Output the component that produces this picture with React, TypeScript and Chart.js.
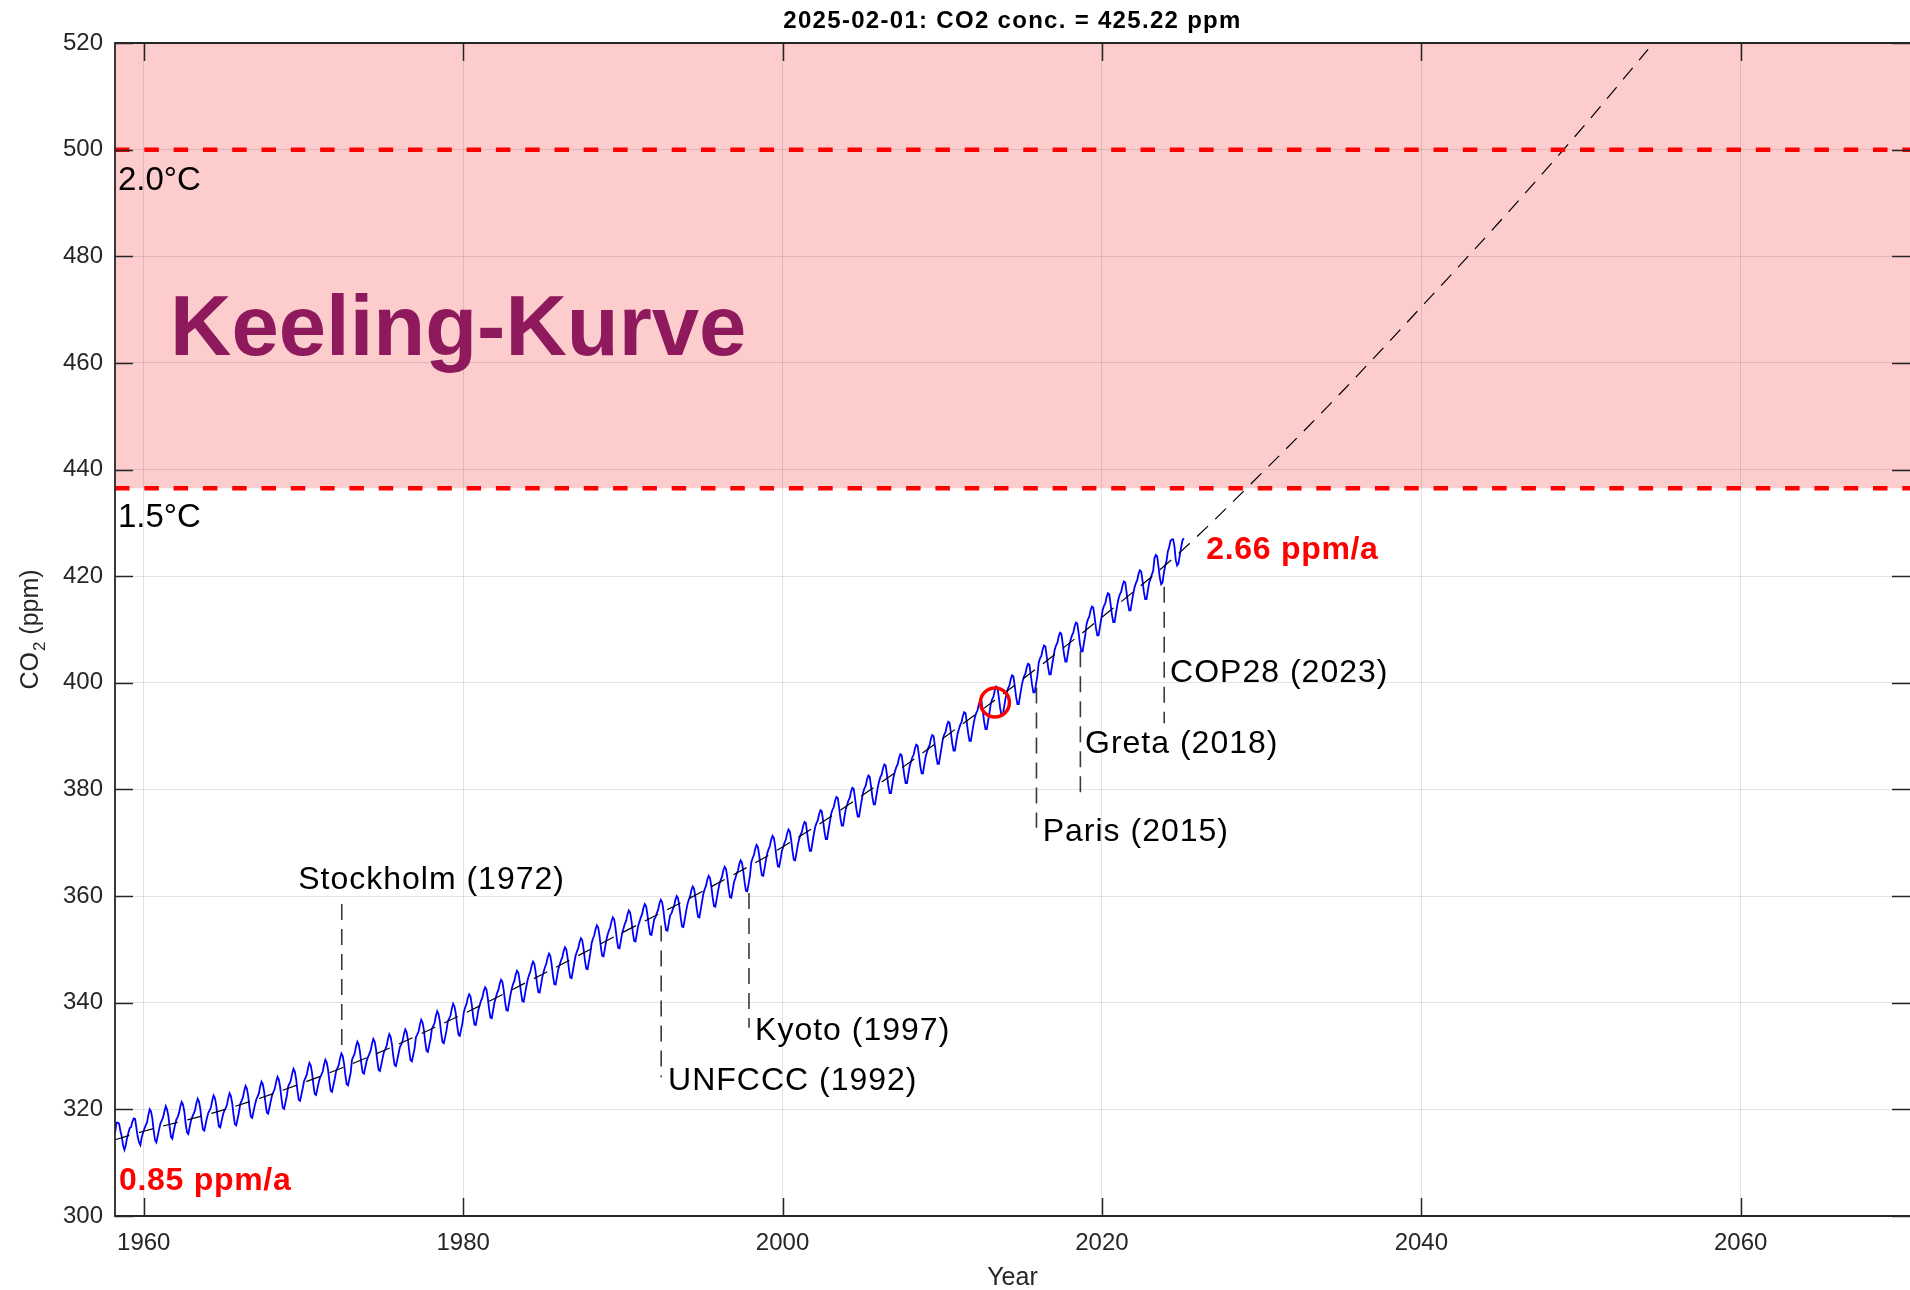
import React, { useEffect, useRef } from 'react';
import { Chart, registerables } from 'chart.js';

Chart.register(...registerables);

// ---------- data ----------
const START_YEAR = 1958;
const START_MONTH = 3; // first value: March 1958

// Monthly mean CO2 (ppm), Mauna Loa, March 1958 .. February 2025
const co2Monthly: number[] = [
  // 1958 (Mar-Dec)
  315.7, 317.5, 317.5, 317.3, 315.9, 314.9, 313.2, 312.4, 313.3, 314.7,
  // 1959
  315.6, 316.5, 316.7, 317.7, 318.3, 318.2, 316.5, 314.8, 313.8, 313.3, 314.8, 315.6,
  // 1960
  316.4, 317.0, 317.6, 319.0, 320.0, 319.6, 318.2, 315.9, 314.2, 313.8, 315.0, 316.2,
  // 1961
  317.3, 317.9, 318.5, 319.6, 320.6, 320.0, 318.8, 316.6, 314.8, 314.5, 315.9, 317.1,
  // 1962
  318.1, 318.6, 319.3, 320.6, 321.4, 320.9, 319.6, 317.3, 315.7, 315.4, 316.7, 317.9,
  // 1963
  318.6, 319.2, 319.8, 321.1, 322.0, 321.5, 320.1, 317.9, 316.2, 316.0, 317.2, 318.4,
  // 1964
  319.3, 319.8, 320.4, 321.7, 322.6, 322.1, 320.7, 318.5, 316.8, 316.6, 317.8, 319.0,
  // 1965
  319.7, 320.2, 320.8, 322.1, 323.0, 322.5, 321.1, 318.9, 317.2, 317.0, 318.2, 319.4,
  // 1966
  321.0, 321.6, 322.2, 323.5, 324.4, 323.9, 322.5, 320.3, 318.6, 318.4, 319.6, 320.8,
  // 1967
  321.8, 322.4, 323.0, 324.3, 325.2, 324.7, 323.3, 321.1, 319.4, 319.2, 320.4, 321.6,
  // 1968
  322.7, 323.3, 323.9, 325.2, 326.1, 325.6, 324.2, 322.0, 320.3, 320.1, 321.3, 322.5,
  // 1969
  324.3, 324.8, 325.4, 326.7, 327.6, 327.1, 325.7, 323.5, 321.8, 321.6, 322.8, 324.0,
  // 1970
  325.3, 325.9, 326.5, 327.8, 328.7, 328.2, 326.8, 324.6, 322.9, 322.7, 323.9, 325.1,
  // 1971
  326.0, 326.5, 327.1, 328.4, 329.3, 328.8, 327.4, 325.2, 323.5, 323.3, 324.5, 325.7,
  // 1972
  327.1, 327.7, 328.3, 329.6, 330.5, 330.0, 328.6, 326.4, 324.7, 324.5, 325.7, 326.9,
  // 1973
  329.3, 329.9, 330.5, 331.8, 332.7, 332.2, 330.8, 328.6, 326.9, 326.7, 327.9, 329.1,
  // 1974
  329.8, 330.4, 331.0, 332.3, 333.2, 332.7, 331.3, 329.1, 327.4, 327.2, 328.4, 329.6,
  // 1975
  330.8, 331.3, 331.9, 333.2, 334.1, 333.6, 332.2, 330.0, 328.3, 328.1, 329.3, 330.5,
  // 1976
  331.7, 332.2, 332.8, 334.1, 335.0, 334.5, 333.1, 330.9, 329.2, 329.0, 330.2, 331.4,
  // 1977
  333.5, 334.0, 334.6, 335.9, 336.8, 336.3, 334.9, 332.7, 331.0, 330.8, 332.0, 333.2,
  // 1978
  335.1, 335.6, 336.2, 337.5, 338.4, 337.9, 336.5, 334.3, 332.6, 332.4, 333.6, 334.8,
  // 1979
  336.5, 337.0, 337.6, 338.9, 339.8, 339.3, 337.9, 335.7, 334.0, 333.8, 335.0, 336.2,
  // 1980
  338.2, 339.1, 339.7, 340.9, 341.6, 341.2, 339.6, 337.5, 335.9, 335.8, 337.2, 338.7,
  // 1981
  339.6, 340.4, 341.0, 342.2, 342.9, 342.5, 340.9, 338.8, 337.2, 337.1, 338.5, 340.0,
  // 1982
  340.9, 341.8, 342.4, 343.6, 344.3, 343.9, 342.3, 340.2, 338.6, 338.5, 339.9, 341.4,
  // 1983
  342.6, 343.5, 344.1, 345.3, 346.0, 345.6, 344.0, 341.9, 340.3, 340.2, 341.6, 343.1,
  // 1984
  344.3, 345.2, 345.8, 347.0, 347.7, 347.3, 345.7, 343.6, 342.0, 341.9, 343.3, 344.8,
  // 1985
  345.8, 346.7, 347.3, 348.5, 349.2, 348.8, 347.2, 345.1, 343.5, 343.4, 344.8, 346.3,
  // 1986
  347.1, 347.9, 348.5, 349.7, 350.4, 350.0, 348.4, 346.3, 344.7, 344.6, 346.0, 347.5,
  // 1987
  348.8, 349.6, 350.2, 351.4, 352.1, 351.7, 350.1, 348.0, 346.4, 346.3, 347.7, 349.2,
  // 1988
  351.1, 352.0, 352.6, 353.8, 354.5, 354.1, 352.5, 350.4, 348.8, 348.7, 350.1, 351.6,
  // 1989
  352.7, 353.5, 354.1, 355.3, 356.0, 355.6, 354.0, 351.9, 350.3, 350.2, 351.6, 353.1,
  // 1990
  353.9, 354.8, 355.4, 356.6, 357.3, 356.9, 355.3, 353.2, 351.6, 351.5, 352.9, 354.4,
  // 1991
  355.2, 356.0, 356.6, 357.8, 358.5, 358.1, 356.5, 354.4, 352.8, 352.7, 354.1, 355.6,
  // 1992
  356.0, 356.8, 357.4, 358.6, 359.3, 358.9, 357.3, 355.2, 353.6, 353.5, 354.9, 356.4,
  // 1993
  356.7, 357.5, 358.1, 359.3, 360.0, 359.6, 358.0, 355.9, 354.3, 354.2, 355.6, 357.1,
  // 1994
  358.4, 359.3, 359.9, 361.1, 361.8, 361.4, 359.8, 357.7, 356.1, 356.0, 357.4, 358.9,
  // 1995
  360.4, 361.3, 361.9, 363.1, 363.8, 363.4, 361.8, 359.7, 358.1, 358.0, 359.4, 360.9,
  // 1996
  362.2, 363.0, 363.6, 364.8, 365.5, 365.1, 363.5, 361.4, 359.8, 359.7, 361.1, 362.6,
  // 1997
  363.3, 364.2, 364.8, 366.0, 366.7, 366.3, 364.7, 362.6, 361.0, 360.9, 362.3, 363.8,
  // 1998
  366.3, 367.1, 367.7, 368.9, 369.6, 369.2, 367.6, 365.5, 363.9, 363.8, 365.2, 366.7,
  // 1999
  368.0, 368.8, 369.4, 370.6, 371.3, 370.9, 369.3, 367.2, 365.6, 365.5, 366.9, 368.4,
  // 2000
  369.2, 370.0, 370.6, 371.8, 372.5, 372.1, 370.5, 368.4, 366.8, 366.7, 368.1, 369.6,
  // 2001
  370.7, 371.5, 372.0, 373.2, 373.9, 373.7, 371.9, 369.9, 368.5, 368.5, 370.1, 371.6,
  // 2002
  372.9, 373.7, 374.2, 375.4, 376.1, 375.9, 374.1, 372.1, 370.7, 370.7, 372.3, 373.8,
  // 2003
  375.4, 376.2, 376.7, 377.9, 378.6, 378.4, 376.6, 374.6, 373.2, 373.2, 374.8, 376.3,
  // 2004
  377.1, 377.9, 378.4, 379.6, 380.3, 380.1, 378.3, 376.3, 374.9, 374.9, 376.5, 378.0,
  // 2005
  379.4, 380.2, 380.7, 381.9, 382.6, 382.4, 380.6, 378.6, 377.2, 377.2, 378.8, 380.3,
  // 2006
  381.5, 382.3, 382.8, 384.0, 384.7, 384.5, 382.7, 380.7, 379.3, 379.3, 380.9, 382.4,
  // 2007
  383.4, 384.2, 384.7, 385.9, 386.6, 386.4, 384.6, 382.6, 381.2, 381.2, 382.8, 384.3,
  // 2008
  385.2, 386.0, 386.5, 387.7, 388.4, 388.2, 386.4, 384.4, 383.0, 383.0, 384.6, 386.1,
  // 2009
  387.0, 387.8, 388.3, 389.5, 390.2, 390.0, 388.2, 386.2, 384.8, 384.8, 386.4, 387.9,
  // 2010
  389.5, 390.3, 390.8, 392.0, 392.7, 392.5, 390.7, 388.7, 387.3, 387.3, 388.9, 390.4,
  // 2011
  391.3, 392.1, 392.6, 393.8, 394.5, 394.3, 392.5, 390.5, 389.1, 389.1, 390.7, 392.2,
  // 2012
  393.5, 394.3, 394.8, 396.0, 396.7, 396.5, 394.7, 392.7, 391.3, 391.3, 392.9, 394.4,
  // 2013
  396.1, 396.9, 397.4, 398.6, 399.3, 399.1, 397.3, 395.3, 393.9, 393.9, 395.5, 397.0,
  // 2014
  398.2, 399.0, 399.5, 400.7, 401.4, 401.2, 399.4, 397.4, 396.0, 396.0, 397.6, 399.1,
  // 2015
  400.4, 401.2, 401.7, 402.9, 403.6, 403.4, 401.6, 399.6, 398.2, 398.2, 399.8, 401.3,
  // 2016
  403.8, 404.6, 405.1, 406.3, 407.0, 406.8, 405.0, 403.0, 401.6, 401.6, 403.2, 404.7,
  // 2017
  406.2, 407.0, 407.5, 408.7, 409.4, 409.2, 407.4, 405.4, 404.0, 404.0, 405.6, 407.1,
  // 2018
  408.1, 408.9, 409.4, 410.6, 411.3, 411.1, 409.3, 407.3, 405.9, 405.9, 407.5, 409.0,
  // 2019
  411.1, 411.9, 412.4, 413.6, 414.3, 414.1, 412.3, 410.3, 408.9, 408.9, 410.5, 412.0,
  // 2020
  413.6, 414.4, 414.9, 416.1, 416.8, 416.6, 414.8, 412.8, 411.4, 411.4, 413.0, 414.5,
  // 2021
  415.8, 416.6, 417.1, 418.3, 419.0, 418.8, 417.0, 415.0, 413.6, 413.6, 415.2, 416.7,
  // 2022
  417.9, 418.7, 419.2, 420.4, 421.1, 420.9, 419.1, 417.1, 415.7, 415.7, 417.3, 418.8,
  // 2023
  419.5, 420.3, 421.0, 423.4, 424.0, 423.7, 421.8, 419.7, 418.5, 418.8, 420.5, 421.9,
  // 2024
  422.8, 424.6, 425.4, 426.6, 426.9, 426.9, 425.6, 423.0, 422.0, 422.4, 423.9, 425.4,
  // 2025 (Jan-Feb)
  426.7, 427.1,
];

// Fitted trend + extrapolation
const trendYears = [1958.2, 1960, 1965, 1970, 1975, 1980, 1985, 1990, 1995, 2000, 2005, 2010, 2015, 2020, 2025, 2030, 2035, 2040, 2045, 2050, 2054.2];
const trendValues = [314.3, 315.9, 319.9, 325.0, 331.0, 337.9, 345.4, 353.2, 360.9, 369.2, 378.9, 389.5, 400.6, 412.3, 424.8, 439.3, 454.5, 470.5, 486.8, 503.8, 518.8];

// Axes
const X_MIN = 1958.2;
const X_MAX = 2070.6;
const Y_MIN = 300;
const Y_MAX = 520;
const xTicks = [1960, 1980, 2000, 2020, 2040, 2060];
const yTicks = [300, 320, 340, 360, 380, 400, 420, 440, 460, 480, 500, 520];

// Temperature thresholds
const thresholdValues = [436.5, 500];
const thresholdLabels = ['1.5°C', '2.0°C'];
const thresholdLabelValues = [429.2, 492.4];
const dangerZone = [436.5, 520];

// Events
const eventLabels = ['Stockholm (1972)', 'UNFCCC (1992)', 'Kyoto (1997)', 'Paris (2015)', 'Greta (2018)', 'COP28 (2023)'];
const eventYears = [1972.4, 1992.4, 1997.9, 2015.9, 2018.65, 2023.9];
const eventTop = [358.5, 354.5, 360.6, 399.1, 405.9, 418.0];
const eventBottom = [332.0, 326.0, 335.3, 372.8, 379.2, 392.4];
const eventLabelYears = [1969.67, 1992.83, 1998.28, 2016.29, 2018.94, 2024.27];
const eventLabelValues = [361.4, 323.7, 333.0, 370.4, 386.9, 400.2];

// Growth rates
const rateLabels = ['0.85 ppm/a', '2.66 ppm/a'];
const rateYears = [1958.45, 2026.53];
const rateValues = [304.9, 423.2];

// Marker circle
const circleYears = [2013.3];
const circleValues = [396.3];

const chartTitle = '2025-02-01: CO2 conc. = 425.22 ppm';
const bigTitle = 'Keeling-Kurve';
const bigTitlePos = [1961.65, 461.4];
const xAxisTitle = 'Year';

const FONT = '"Liberation Sans", Arial, Helvetica, sans-serif';
const AXIS_COLOR = '#262626';

const keelingPlugin = {
  id: 'keelingDecor',
  beforeDraw(chart: any) {
    const { ctx, chartArea: ca, scales } = chart;
    const y = scales.y;
    const top = y.getPixelForValue(dangerZone[1]);
    const bot = y.getPixelForValue(dangerZone[0]);
    ctx.save();
    ctx.fillStyle = '#fdcccc';
    ctx.fillRect(ca.left, top, ca.right - ca.left, bot - top);
    ctx.restore();
  },
  afterDraw(chart: any) {
    const { ctx, chartArea: ca, scales } = chart;
    const x = scales.x;
    const y = scales.y;
    ctx.save();

    // inward tick marks
    ctx.strokeStyle = AXIS_COLOR;
    ctx.lineWidth = 1.5;
    const TL = 18;
    ctx.beginPath();
    xTicks.forEach((t) => {
      const px = Math.round(x.getPixelForValue(t)) + 0.5;
      ctx.moveTo(px, ca.bottom);
      ctx.lineTo(px, ca.bottom - TL);
      ctx.moveTo(px, ca.top);
      ctx.lineTo(px, ca.top + TL);
    });
    yTicks.forEach((t) => {
      const py = Math.round(y.getPixelForValue(t)) + 0.5;
      ctx.moveTo(ca.left, py);
      ctx.lineTo(ca.left + TL, py);
      ctx.moveTo(ca.right, py);
      ctx.lineTo(ca.right - TL, py);
    });
    ctx.stroke();

    // axes box (left, top, bottom; the right edge lies at the image border)
    ctx.lineWidth = 1.8;
    ctx.beginPath();
    ctx.moveTo(ca.right + 2, ca.top);
    ctx.lineTo(ca.left, ca.top);
    ctx.lineTo(ca.left, ca.bottom);
    ctx.lineTo(ca.right + 2, ca.bottom);
    ctx.stroke();

    // title
    ctx.fillStyle = '#000';
    ctx.font = `bold 24px ${FONT}`;
    ctx.textAlign = 'center';
    ctx.textBaseline = 'alphabetic';
    (ctx as any).letterSpacing = '1.3px';
    ctx.fillText(chartTitle, (ca.left + ca.right) / 2, 28);
    (ctx as any).letterSpacing = '0px';

    // x axis title
    ctx.fillStyle = AXIS_COLOR;
    ctx.font = `25px ${FONT}`;
    ctx.textAlign = 'center';
    ctx.textBaseline = 'alphabetic';
    ctx.fillText(xAxisTitle, (ca.left + ca.right) / 2, 1285);

    // y axis title with subscript
    ctx.save();
    ctx.translate(31, 630);
    ctx.rotate(-Math.PI / 2);
    ctx.textAlign = 'left';
    ctx.textBaseline = 'middle';
    ctx.font = `25px ${FONT}`;
    const w1 = ctx.measureText('CO').width;
    const w3 = ctx.measureText(' (ppm)').width;
    ctx.font = `17px ${FONT}`;
    const w2 = ctx.measureText('2').width;
    const x0 = -(w1 + w2 + w3) / 2;
    ctx.font = `25px ${FONT}`;
    ctx.fillText('CO', x0, 0);
    ctx.font = `17px ${FONT}`;
    ctx.fillText('2', x0 + w1 + 1, 9);
    ctx.font = `25px ${FONT}`;
    ctx.fillText(' (ppm)', x0 + w1 + w2 + 1, 0);
    ctx.restore();

    // big title
    ctx.textAlign = 'left';
    ctx.textBaseline = 'alphabetic';
    ctx.fillStyle = '#8e195c';
    ctx.font = `bold 85px ${FONT}`;
    ctx.fillText(bigTitle, x.getPixelForValue(bigTitlePos[0]), y.getPixelForValue(bigTitlePos[1]));

    // threshold labels
    ctx.fillStyle = '#000';
    ctx.font = `33px ${FONT}`;
    thresholdLabels.forEach((lab, i) => {
      ctx.fillText(lab, ca.left + 3, y.getPixelForValue(thresholdLabelValues[i]));
    });

    // event labels
    ctx.font = `32px ${FONT}`;
    (ctx as any).letterSpacing = '1px';
    eventLabels.forEach((lab, i) => {
      ctx.fillText(lab, x.getPixelForValue(eventLabelYears[i]), y.getPixelForValue(eventLabelValues[i]));
    });
    (ctx as any).letterSpacing = '0px';

    // rate labels
    ctx.fillStyle = '#ff0000';
    ctx.font = `bold 32px ${FONT}`;
    (ctx as any).letterSpacing = '0.7px';
    rateLabels.forEach((lab, i) => {
      ctx.fillText(lab, x.getPixelForValue(rateYears[i]), y.getPixelForValue(rateValues[i]));
    });
    (ctx as any).letterSpacing = '0px';

    ctx.restore();
  },
};

export default function App() {
  const canvasRef = useRef<HTMLCanvasElement | null>(null);

  useEffect(() => {
    const canvas = canvasRef.current;
    if (!canvas) return;

    const monthX = co2Monthly.map((_, i) => START_YEAR + (START_MONTH - 1 + i + 0.5) / 12);

    const datasets: any[] = [];

    thresholdValues.forEach((v, i) => {
      datasets.push({
        label: thresholdLabels[i],
        data: [{ x: X_MIN, y: v }, { x: X_MAX, y: v }],
        borderColor: '#ff0000',
        borderWidth: 4.5,
        borderDash: [14.5, 14.8],
        pointRadius: 0,
        order: 1,
      });
    });

    datasets.push({
      label: 'Marker',
      data: circleYears.map((yr, i) => ({ x: yr, y: circleValues[i] })),
      showLine: false,
      pointRadius: 14.5,
      pointBorderWidth: 3.5,
      pointBorderColor: '#ff0000',
      pointBackgroundColor: 'rgba(0,0,0,0)',
      order: 0,
    });

    datasets.push({
      label: 'Trend',
      data: trendYears.map((yr, i) => ({ x: yr, y: trendValues[i] })),
      borderColor: '#000000',
      borderWidth: 1.2,
      borderDash: [15, 10],
      pointRadius: 0,
      cubicInterpolationMode: 'monotone',
      order: 2,
    });

    datasets.push({
      label: 'CO2',
      data: co2Monthly.map((v, i) => ({ x: monthX[i], y: v })),
      borderColor: '#0000ff',
      borderWidth: 1.8,
      pointRadius: 0,
      order: 3,
    });

    eventYears.forEach((yr, i) => {
      datasets.push({
        label: eventLabels[i],
        data: [{ x: yr, y: eventTop[i] }, { x: yr, y: eventBottom[i] }],
        borderColor: '#3a3a3a',
        borderWidth: 1.6,
        borderDash: [16, 9],
        pointRadius: 0,
        order: 4,
      });
    });

    const tickFont = { family: FONT, size: 24 };

    const chart = new Chart(canvas, {
      type: 'line',
      data: { datasets },
      options: {
        animation: false,
        responsive: false,
        maintainAspectRatio: false,
        layout: { autoPadding: false, padding: { top: 43, right: 0, bottom: 0, left: 0 } },
        plugins: {
          legend: { display: false },
          tooltip: { enabled: false },
          title: { display: false },
        },
        elements: { line: { tension: 0 } },
        scales: {
          x: {
            type: 'linear',
            min: X_MIN,
            max: X_MAX,
            afterBuildTicks: (s: any) => {
              s.ticks = xTicks.map((v) => ({ value: v }));
            },
            afterFit: (s: any) => {
              s.height = 74;
              s.paddingLeft = 0;
              s.paddingRight = 0;
            },
            ticks: {
              callback: (v: any) => String(v),
              font: tickFont,
              color: AXIS_COLOR,
              padding: 13,
              maxRotation: 0,
              autoSkip: false,
            },
            grid: { color: 'rgba(38,38,38,0.13)', lineWidth: 1, drawTicks: false },
            border: { display: false },
          },
          y: {
            type: 'linear',
            min: Y_MIN,
            max: Y_MAX,
            afterBuildTicks: (s: any) => {
              s.ticks = yTicks.map((v) => ({ value: v }));
            },
            afterFit: (s: any) => {
              s.width = 115;
              s.paddingTop = 0;
              s.paddingBottom = 0;
            },
            ticks: {
              callback: (v: any) => String(v),
              font: tickFont,
              color: AXIS_COLOR,
              padding: 12,
              autoSkip: false,
            },
            grid: { color: 'rgba(38,38,38,0.13)', lineWidth: 1, drawTicks: false },
            border: { display: false },
          },
        },
      },
      plugins: [keelingPlugin],
    });

    return () => {
      chart.destroy();
    };
  }, []);

  return (
    <div style={{ position: 'absolute', left: 0, top: 0, width: 1910, height: 1290, background: '#ffffff', overflow: 'hidden' }}>
      <canvas ref={canvasRef} width={1910} height={1290} style={{ display: 'block', width: 1910, height: 1290 }} />
    </div>
  );
}
